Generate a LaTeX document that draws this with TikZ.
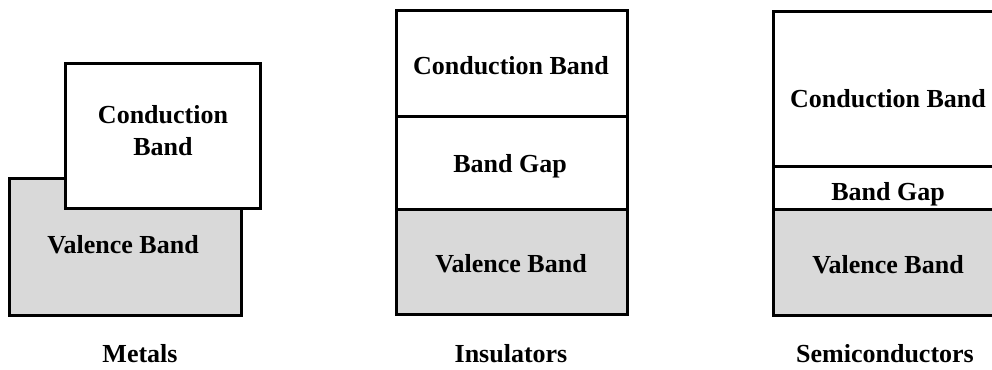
\documentclass[tikz,border=0pt]{standalone}
\usepackage{fontspec}
\setmainfont{Liberation Serif}
\begin{document}
\begin{tikzpicture}[x=1pt,y=-1pt,
  bandline/.style={draw=black,line width=3pt,line join=miter},
  filled/.style={bandline,fill=black!15},
  empty/.style={bandline,fill=white},
  bandtext/.style={font=\fontsize{26}{32}\selectfont\bfseries,inner sep=0pt,align=center},
  caption/.style={bandtext}]
\clip (0,0) rectangle (992,369);
\useasboundingbox (0,0) rectangle (992,369);

% Metals: overlapping valence and conduction bands
\draw[filled] (9,178) rectangle (241,315);
\draw[empty] (65,63) rectangle (260,208);
\node[bandtext] (met-cb) at (163,131) {Conduction\\Band};
\node[bandtext] (met-vb) at (123,245) {Valence Band};
\node[caption] (met) at (140,353.5) {Metals};

% Insulators: wide band gap
\draw[empty] (396,11) rectangle (627,116);
\draw[empty] (396,116) rectangle (627,209);
\draw[filled] (396,209) rectangle (627,314);
\node[bandtext] (ins-cb) at (511,65.7) {Conduction Band};
\node[bandtext] (ins-gap) at (510,166) {Band Gap};
\node[bandtext] (ins-vb) at (511,263.5) {Valence Band};
\node[caption] (ins) at (511,353.5) {Insulators};

% Semiconductors: narrow band gap
\draw[empty] (773,12) rectangle (1003,166);
\draw[empty] (773,166) rectangle (1003,209);
\draw[filled] (773,209) rectangle (1003,315);
\node[bandtext] (sem-cb) at (888,98.5) {Conduction Band};
\node[bandtext] (sem-gap) at (888,194) {Band Gap};
\node[bandtext] (sem-vb) at (888,265) {Valence Band};
\node[caption] (sem) at (885,353.5) {Semiconductors};
\end{tikzpicture}
\end{document}
